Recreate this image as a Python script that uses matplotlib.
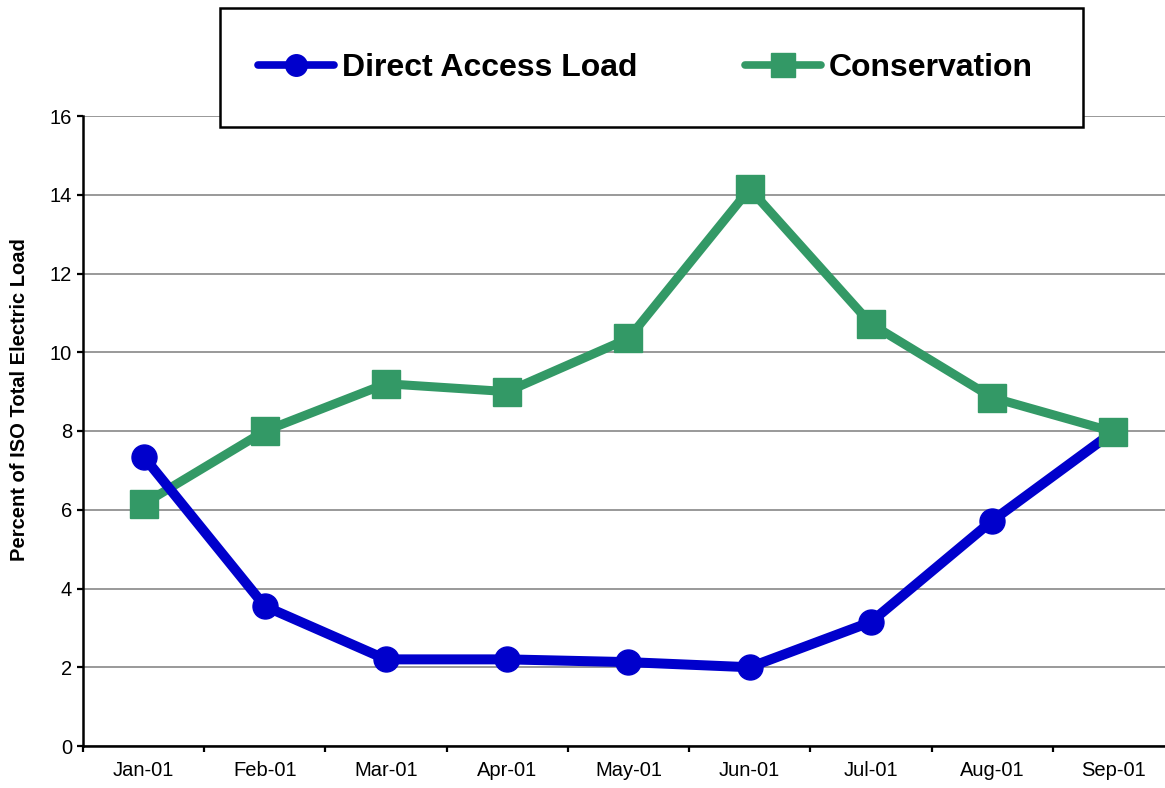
import matplotlib
matplotlib.use("Agg")
import matplotlib.pyplot as plt
from matplotlib.lines import Line2D
from matplotlib.patches import Rectangle
from matplotlib.ticker import FixedLocator, NullFormatter

plt.rcParams['font.family'] = ['Liberation Sans', 'DejaVu Sans']

months = ['Jan-01', 'Feb-01', 'Mar-01', 'Apr-01', 'May-01', 'Jun-01', 'Jul-01', 'Aug-01', 'Sep-01']
direct_access = [7.35, 3.55, 2.2, 2.2, 2.13, 2.0, 3.15, 5.72, 7.98]
conservation = [6.15, 8.0, 9.2, 9.0, 10.35, 14.15, 10.72, 8.85, 7.98]

BLUE = '#0000CC'
GREEN = '#339966'

fig = plt.figure(figsize=(11.65, 7.88), dpi=100)
ax = fig.add_axes([83 / 1165, 42 / 788, 1091 / 1165, 630 / 788])

x = list(range(len(months)))

# lines first, then markers (green squares sit on top)
ax.plot(x, conservation, color=GREEN, lw=6.5, zorder=3, solid_joinstyle='miter')
ax.plot(x, direct_access, color=BLUE, lw=7.2, zorder=4, solid_joinstyle='miter')
ax.plot(x, direct_access, ls='none', marker='o', ms=18, color=BLUE, zorder=5)
ax.plot(x, conservation, ls='none', marker='s', ms=19.5, color=GREEN, zorder=6)

ax.set_xlim(-0.5, len(months) - 0.5)
ax.set_ylim(0, 16)
ax.set_yticks(range(0, 17, 2))
ax.yaxis.grid(True, color='#999999', lw=1.4)
ax.set_axisbelow(True)

# tick marks between the categories, labels under the points
ax.xaxis.set_major_locator(FixedLocator([i - 0.5 for i in range(len(months) + 1)]))
ax.xaxis.set_major_formatter(NullFormatter())
ax.xaxis.set_minor_locator(FixedLocator(x))
ax.set_xticklabels(months, minor=True)
ax.tick_params(axis='x', which='major', length=4, width=1.6, direction='out')
ax.tick_params(axis='x', which='minor', length=0, pad=11, labelsize=14.5)
ax.tick_params(axis='y', length=4, width=1.6, pad=4, labelsize=14.5)

for side in ['top', 'right']:
    ax.spines[side].set_visible(False)
for side in ['left', 'bottom']:
    ax.spines[side].set_linewidth(1.8)

fig.text(20 / 1165, 1 - 400 / 788, 'Percent of ISO Total Electric Load',
         rotation=90, ha='center', va='center', fontsize=14.5, fontweight='bold')

# legend box drawn over the top of the plot
box = Rectangle((220 / 1165, 1 - 127 / 788), 863 / 1165, 119 / 788,
                transform=fig.transFigure, facecolor='white', edgecolor='black',
                lw=1.8, zorder=10)
fig.patches.append(box)

handles = [
    Line2D([], [], color=BLUE, lw=5.5, marker='o', ms=15.5, solid_capstyle='round'),
    Line2D([], [], color=GREEN, lw=5.5, marker='s', ms=17, solid_capstyle='round'),
]
leg = fig.legend(handles, ['Direct Access Load', 'Conservation'], ncol=2,
                 loc='center', bbox_to_anchor=((220 + 863 / 2 - 6) / 1165, 1 - 68 / 788),
                 frameon=False, prop={'size': 23, 'weight': 'bold'},
                 handlelength=2.35, handletextpad=0.25, columnspacing=3.4)
leg.set_zorder(11)

fig.savefig('out.png', dpi=100)
